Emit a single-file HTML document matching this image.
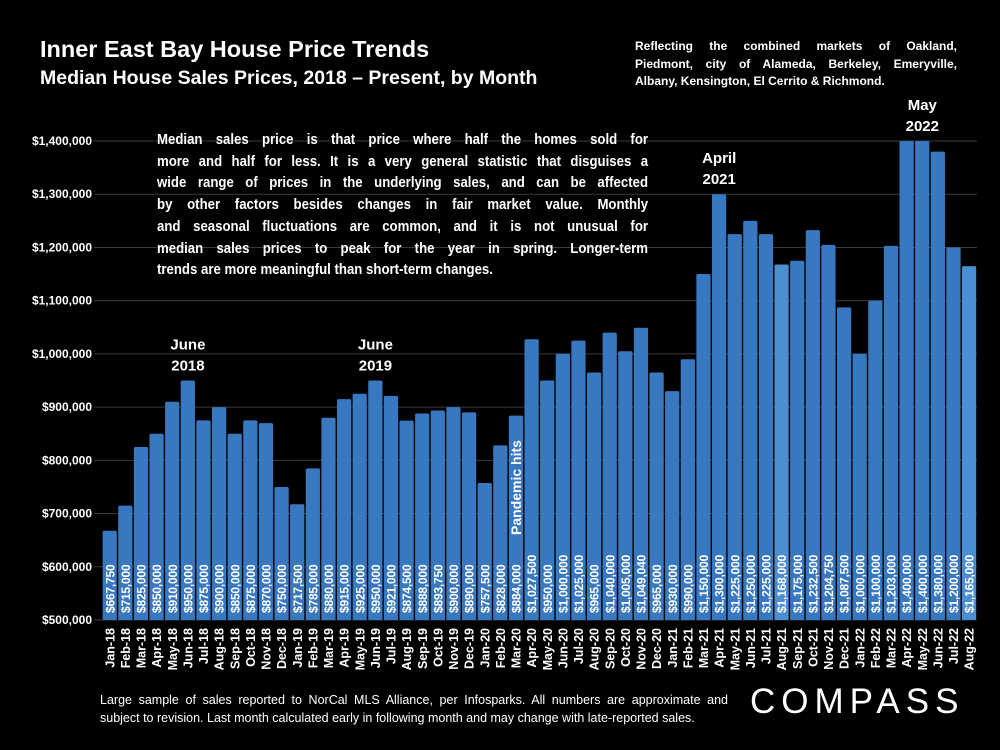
<!DOCTYPE html>
<html><head><meta charset="utf-8"><style>
body{margin:0;background:#000;}
#wrap{position:relative;width:1000px;height:750px;background:#000;overflow:hidden;font-family:"Liberation Sans",sans-serif;color:#fff;font-weight:bold;}
.abs{position:absolute;}
.jl{white-space:nowrap;text-align:justify;text-align-last:justify;}
.ll{white-space:nowrap;text-align:left;}
</style></head><body>
<div id="wrap">
<svg id="chart" class="abs" style="left:0;top:0" width="1000" height="750"></svg>
<div class="abs" style="left:40px;top:36px;font-size:23.5px;">Inner East Bay House Price Trends</div>
<div class="abs" style="left:40px;top:67px;font-size:19.5px;">Median House Sales Prices, 2018 – Present, by Month</div>
<div class="abs" style="left:635px;top:38px;width:322px;font-size:12px;line-height:17.5px;">
<div class="jl">Reflecting the combined markets of Oakland,</div>
<div class="jl">Piedmont, city of Alameda, Berkeley, Emeryville,</div>
<div class="ll">Albany, Kensington, El Cerrito &amp; Richmond.</div>
</div>
<div class="abs" style="left:157px;top:129px;width:558px;transform:scaleX(0.88);transform-origin:0 0;font-size:15px;line-height:21.7px;">
<div class="jl">Median sales price is that price where half the homes sold for</div>
<div class="jl">more and half for less. It is a very general statistic that disguises a</div>
<div class="jl">wide range of prices in the underlying sales, and can be affected</div>
<div class="jl">by other factors besides changes in fair market value. Monthly</div>
<div class="jl">and seasonal fluctuations are common, and it is not unusual for</div>
<div class="jl">median sales prices to peak for the year in spring. Longer-term</div>
<div class="ll">trends are more meaningful than short-term changes.</div>
</div>
<div class="abs" style="left:100px;top:691px;width:628px;font-size:12.5px;line-height:18px;font-weight:normal;">
<div class="jl">Large sample of sales reported to NorCal MLS Alliance, per Infosparks. All numbers are approximate and</div>
<div class="ll">subject to revision. Last month calculated early in following month and may change with late-reported sales.</div>
</div>
<div class="abs" style="left:750px;top:682px;font-size:35px;letter-spacing:6px;font-weight:normal;">COMPASS</div>
</div>
<script>
const categories=["Jan-18","Feb-18","Mar-18","Apr-18","May-18","Jun-18","Jul-18","Aug-18","Sep-18","Oct-18","Nov-18","Dec-18","Jan-19","Feb-19","Mar-19","Apr-19","May-19","Jun-19","Jul-19","Aug-19","Sep-19","Oct-19","Nov-19","Dec-19","Jan-20","Feb-20","Mar-20","Apr-20","May-20","Jun-20","Jul-20","Aug-20","Sep-20","Oct-20","Nov-20","Dec-20","Jan-21","Feb-21","Mar-21","Apr-21","May-21","Jun-21","Jul-21","Aug-21","Sep-21","Oct-21","Nov-21","Dec-21","Jan-22","Feb-22","Mar-22","Apr-22","May-22","Jun-22","Jul-22","Aug-22"];
const prices=[667750,715000,825000,850000,910000,950000,875000,900000,850000,875000,870000,750000,717500,785000,880000,915000,925000,950000,921000,874500,888000,893750,900000,890000,757500,828000,884000,1027500,950000,1000000,1025000,965000,1040000,1005000,1049040,965000,930000,990000,1150000,1300000,1225000,1250000,1225000,1168000,1175000,1232500,1204750,1087500,1000000,1100000,1203000,1400000,1400000,1380000,1200000,1165000];
const yTicks=[500000,600000,700000,800000,900000,1000000,1100000,1200000,1300000,1400000];
const highlighted=["Aug-21","Aug-22"];
const annotations=[["Jun-18","June","2018"],["Jun-19","June","2019"],["Apr-21","April","2021"],["May-22","May","2022"]];

const svg=document.getElementById('chart');
const NS='http://www.w3.org/2000/svg';
const X0=102,X1=977,Y0=620,YMIN=500000,YMAX=1400000,YTOP=141;
const step=(X1-X0)/categories.length;
const y=v=>Y0-(v-YMIN)/(YMAX-YMIN)*(Y0-YTOP);
const x=i=>X0+i*step;
function mk(t,a){const e=document.createElementNS(NS,t);for(const k in a)e.setAttribute(k,a[k]);svg.appendChild(e);return e;}
const fmt=v=>'$'+v.toLocaleString('en-US');
yTicks.forEach(t=>{
  const l=mk('line',{x1:X0-8,x2:X1,y1:y(t),y2:y(t),stroke:'#3a3a3a','stroke-width':1});
  
  
  const tx=mk('text',{x:92,y:y(t)+4,'text-anchor':'end',fill:'#fff','font-size':12,'font-weight':'bold','font-family':'Liberation Sans, sans-serif'});
  tx.textContent=fmt(t);
  
  
});
categories.forEach((c,i)=>{
  const r=mk('rect',{x:x(i)+0.6,y:y(prices[i]),width:step-1.4,height:Y0-y(prices[i]),fill:highlighted.includes(c)?'#4a8fd2':'#3878c0',rx:1.5});
  
  
  const cx=x(i)+step/2;
  const v=mk('text',{x:0,y:0,transform:`translate(${cx+4.5},613) rotate(-90)`,fill:'#fff','font-size':12,'font-family':'Liberation Sans, sans-serif','letter-spacing':'-0.2'});
  v.textContent=fmt(prices[i]);
  
  
  const cl=mk('text',{x:0,y:0,transform:`translate(${cx+4.5},628) rotate(-90)`,'text-anchor':'end',fill:'#fff','font-size':12.5,'font-weight':'bold','font-family':'Liberation Sans, sans-serif'});
  cl.textContent=c;
  
  
});
annotations.forEach(a=>{
  const i=categories.indexOf(a[0]);const cx=x(i)+step/2;const by=y(prices[i]);
  [a[1],a[2]].forEach((s,k)=>{
    const t=mk('text',{x:cx,y:by-31+k*21,'text-anchor':'middle',fill:'#fff','font-size':15,'font-weight':'bold','font-family':'Liberation Sans, sans-serif'});
    t.textContent=s;
    
    
  });
});
const pi=categories.indexOf("Mar-20");
const p=mk('text',{x:0,y:0,transform:`translate(${x(pi)+step/2+5},535) rotate(-90)`,fill:'#fff','font-size':14,'font-weight':'bold','font-family':'Liberation Sans, sans-serif'});
p.textContent='Pandemic hits';


</script>
</body></html>
